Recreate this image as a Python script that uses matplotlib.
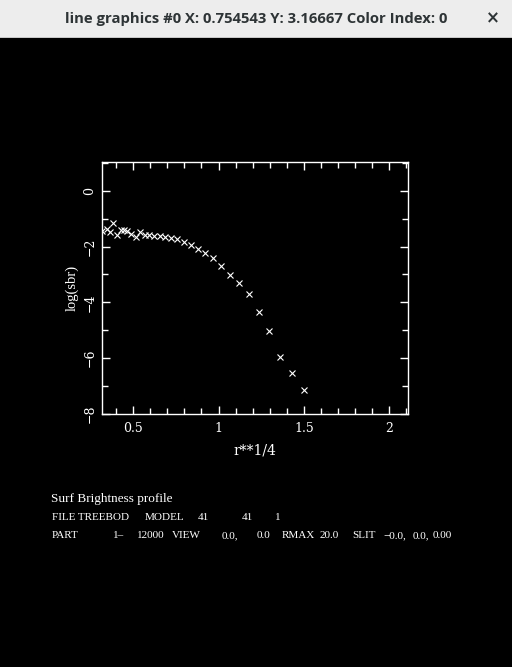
import numpy as np
import matplotlib.pyplot as plt
from matplotlib.patches import Rectangle
from matplotlib.ticker import MultipleLocator, FuncFormatter

# ========== Data ==========
r_quarter = [0.318, 0.344, 0.363, 0.383, 0.406, 0.426, 0.445, 0.465, 0.488, 0.518,
             0.541, 0.569, 0.594, 0.621, 0.656, 0.688, 0.723, 0.758, 0.799, 0.840,
             0.881, 0.922, 0.969, 1.016, 1.068, 1.121, 1.180, 1.238, 1.297, 1.361,
             1.431, 1.502]
log_sbr = [-1.44, -1.37, -1.49, -1.17, -1.58, -1.40, -1.40, -1.45, -1.56, -1.64,
           -1.47, -1.57, -1.60, -1.63, -1.63, -1.67, -1.70, -1.73, -1.85, -1.95,
           -2.07, -2.24, -2.42, -2.70, -3.02, -3.31, -3.70, -4.34, -5.02, -5.95,
           -6.52, -7.13]

window_title = "line graphics #0 X: 0.754543 Y: 3.16667 Color Index: 0"
info_title = "Surf Brightness profile"
file_tokens = ["FILE TREEBOD", "MODEL", "41", "41", "1"]
part_tokens = ["PART", "1\u2013", "12000", "VIEW", "0.0,", "0.0", "RMAX", "20.0",
               "SLIT", "\u22120.0,", "0.0,", "0.00"]

W, H = 512, 667
SERIF = ["Liberation Serif", "DejaVu Serif"]
# left edge (px) of each token in the two info lines
file_x = [52, 145, 198, 242, 275]
part_x = [52, 113, 137, 172, 222, 257, 282, 320, 352, 383, 413, 433]

fig = plt.figure(figsize=(W / 100, H / 100), dpi=100)
fig.patch.set_facecolor("black")

# ========== Window title bar ==========
bar_h = 37 / H
fig.add_artist(Rectangle((0, 1 - bar_h), 1, bar_h, transform=fig.transFigure,
                         facecolor="#ededed", edgecolor="none", zorder=0))
fig.add_artist(Rectangle((0, 1 - bar_h - 1 / H), 1, 1 / H, transform=fig.transFigure,
                         facecolor="#c8c8c8", edgecolor="none", zorder=0))
fig.text(256 / W, 1 - 19 / H, window_title, ha="center", va="center", fontsize=10.7,
         fontweight="bold", color="#2e3436", family=["Open Sans", "DejaVu Sans"])
fig.text(493 / W, 1 - 18 / H, "\u00d7", ha="center", va="center", fontsize=12,
         fontweight="bold", color="#2e3436", family="DejaVu Sans")

# ========== Plot ==========
ax = fig.add_axes([102 / W, 1 - 414 / H, 306 / W, 252 / H])
ax.set_facecolor("black")
ax.plot(r_quarter, log_sbr, linestyle="none", marker="x", markersize=4.5,
        markeredgewidth=0.8, color="white")
ax.set_xlim(0.317, 2.11)
ax.set_ylim(-8, 1.03)

ax.xaxis.set_major_locator(MultipleLocator(0.5))
ax.xaxis.set_minor_locator(MultipleLocator(0.1))
ax.yaxis.set_major_locator(MultipleLocator(2))
ax.yaxis.set_minor_locator(MultipleLocator(1))
fmt = FuncFormatter(lambda v, p: f"{v:g}".replace("-", "\u2212"))
ax.xaxis.set_major_formatter(fmt)
ax.yaxis.set_major_formatter(fmt)

for s in ax.spines.values():
    s.set_color("white")
    s.set_linewidth(1.0)
ax.tick_params(which="both", direction="in", colors="white", top=True, right=True, width=1.0)
ax.tick_params(which="major", length=6)
ax.tick_params(which="minor", length=4)
ax.tick_params(axis="x", pad=5.5, labelsize=9)
ax.tick_params(axis="y", pad=4, labelsize=9)
for lab in ax.get_xticklabels() + ax.get_yticklabels():
    lab.set_family("DejaVu Serif")
    lab.set_color("white")
for lab in ax.get_yticklabels():
    lab.set_rotation(90)
    lab.set_va("center")

ax.set_xlabel("r**1/4", color="white", fontsize=10, family="DejaVu Serif", va="center")
ax.set_ylabel("log(sbr)", color="white", fontsize=10.5, family=SERIF, va="center")
ax.xaxis.set_label_coords(0.5, (414 - 451) / 252)
ax.yaxis.set_label_coords((72 - 102) / 306, 0.5)

# ========== Info text ==========
fig.text(51 / W, 1 - 499 / H, info_title, ha="left", va="center", fontsize=9.5,
         color="white", family=SERIF)
for tok, x in zip(file_tokens, file_x):
    fig.text(x / W, 1 - 518 / H, tok, ha="left", va="center", fontsize=8,
             color="white", family=SERIF)
for tok, x in zip(part_tokens, part_x):
    fig.text(x / W, 1 - 536 / H, tok, ha="left", va="center", fontsize=8,
             color="white", family=SERIF)

plt.savefig("out.png", dpi=100, facecolor=fig.get_facecolor())
plt.close()
